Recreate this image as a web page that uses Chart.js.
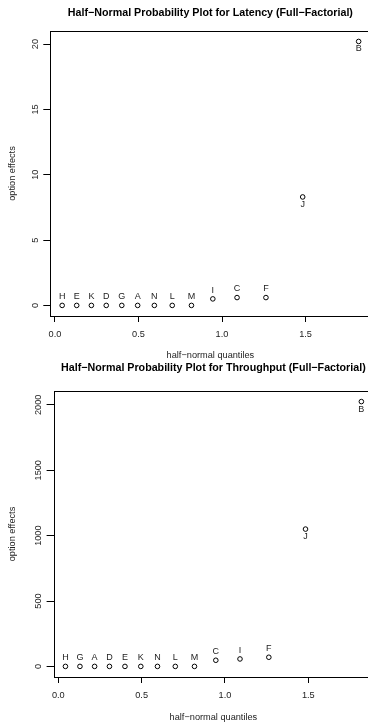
<!DOCTYPE html>
<html>
<head>
<meta charset="utf-8">
<script src="https://cdn.jsdelivr.net/npm/chart.js@4.4.1/dist/chart.umd.min.js"></script>
<style>
  html, body { margin: 0; padding: 0; background: #fff; overflow: hidden; }
  body { width: 368px; height: 725px; }
  .panel { position: relative; width: 420px; }
  #latency-wrap { height: 361px; }
  #throughput-wrap { height: 364px; }
  canvas { display: block; }
</style>
</head>
<body>
<div class="panel" id="latency-wrap"><canvas id="latency"></canvas></div>
<div class="panel" id="throughput-wrap"><canvas id="throughput"></canvas></div>
<script>
// values
const latFactors = ["H", "E", "K", "D", "G", "A", "N", "L", "M", "I", "C", "F", "J", "B"];
const latQuantiles = [0.043, 0.130, 0.218, 0.307, 0.400, 0.495, 0.595, 0.702, 0.817, 0.945, 1.090, 1.263, 1.483, 1.818];
const latEffects = [0, 0, 0, 0, 0, 0, 0, 0, 0, 0.5, 0.6, 0.6, 8.3, 20.2];
const latTicksY = [0, 5, 10, 15, 20];

const tpFactors = ["H", "G", "A", "D", "E", "K", "N", "L", "M", "C", "I", "F", "J", "B"];
const tpQuantiles = [0.043, 0.130, 0.218, 0.307, 0.400, 0.495, 0.595, 0.702, 0.817, 0.945, 1.090, 1.263, 1.483, 1.818];
const tpEffects = [0, 0, 0, 0, 0, 0, 0, 0, 0, 47, 57, 70, 1050, 2025];
const tpTicksY = [0, 500, 1000, 1500, 2000];

const xTicks = [0, 0.5, 1, 1.5];
const labelBelow = ["J", "B"];

const FONT = "'Liberation Sans', Arial, Helvetica, sans-serif";
const TXT = "#222";
const SMALL = 9.2;

// box around the plot region, like R's bty="o"
const framePlugin = {
  id: "frame",
  afterDraw(chart) {
    const { ctx, chartArea: a } = chart;
    ctx.save();
    ctx.strokeStyle = "#000";
    ctx.lineWidth = 1;
    ctx.strokeRect(Math.round(a.left) + 0.5, Math.round(a.top) + 0.5,
      Math.round(a.right - a.left), Math.round(a.bottom - a.top));
    ctx.restore();
  },
};

// y tick labels parallel to the axis (R default las=0)
const yTextPlugin = {
  id: "yText",
  afterDraw(chart, args, opts) {
    const { ctx } = chart;
    const y = chart.scales.y;
    ctx.save();
    ctx.fillStyle = TXT;
    ctx.font = SMALL + "px " + FONT;
    ctx.textAlign = "center";
    ctx.textBaseline = "middle";
    opts.ticks.forEach((v) => {
      ctx.save();
      ctx.translate(y.right - opts.gap, y.getPixelForValue(v));
      ctx.rotate(-Math.PI / 2);
      ctx.fillText(String(v), 0, 0);
      ctx.restore();
    });
    ctx.restore();
  },
};

// factor letters next to each point
const pointTextPlugin = {
  id: "pointText",
  afterDatasetsDraw(chart, args, opts) {
    const { ctx } = chart;
    const meta = chart.getDatasetMeta(0);
    ctx.save();
    ctx.fillStyle = TXT;
    ctx.font = "9px " + FONT;
    ctx.textAlign = "center";
    ctx.textBaseline = "middle";
    meta.data.forEach((pt, i) => {
      const name = opts.names[i];
      const dy = labelBelow.includes(name) ? 7.5 : -8.7;
      ctx.fillText(name, pt.x, pt.y + dy);
    });
    ctx.restore();
  },
};

function makeChart(id, c) {
  const pts = c.quantiles.map((q, i) => ({ x: q, y: c.effects[i] }));
  return new Chart(document.getElementById(id), {
    type: "scatter",
    data: {
      datasets: [{
        data: pts,
        pointStyle: "circle",
        pointRadius: 2.3,
        pointBorderWidth: 1,
        pointBorderColor: "#000",
        pointBackgroundColor: "rgba(0,0,0,0)",
      }],
    },
    plugins: [framePlugin, yTextPlugin, pointTextPlugin],
    options: {
      responsive: true,
      maintainAspectRatio: false,
      animation: false,
      events: [],
      layout: { padding: { left: 0, right: c.rightPad, top: 0, bottom: 0 } },
      plugins: {
        legend: { display: false },
        tooltip: { enabled: false },
        yText: { ticks: c.yTicks, gap: 15 },
        pointText: { names: c.factors },
      },
      scales: {
        top: {
          type: "linear",
          position: "top",
          min: c.xMin,
          max: c.xMax,
          grid: { display: false },
          border: { display: false },
          ticks: { display: false },
          title: {
            display: true,
            text: c.title,
            color: "#000",
            font: { family: FONT, size: 10.7, weight: "bold" },
            padding: { top: c.titleTop, bottom: 0 },
          },
          afterFit: (s) => { s.height = c.plotTop; },
        },
        x: {
          type: "linear",
          position: "bottom",
          min: c.xMin,
          max: c.xMax,
          afterBuildTicks: (s) => { s.ticks = xTicks.map((v) => ({ value: v })); },
          grid: { drawOnChartArea: false, drawTicks: true, tickLength: 6, color: "#000" },
          border: { display: false },
          ticks: {
            color: TXT,
            padding: 6.5,
            maxRotation: 0,
            font: { family: FONT, size: SMALL },
            callback: (v) => Number(v).toFixed(1),
          },
          title: {
            display: true,
            text: "half−normal quantiles",
            color: TXT,
            font: { family: FONT, size: SMALL },
            padding: { top: 0, bottom: c.xTitleBottom },
          },
          afterFit: (s) => { s.height = c.xAxisH; },
        },
        y: {
          type: "linear",
          position: "left",
          min: c.yMin,
          max: c.yMax,
          afterBuildTicks: (s) => { s.ticks = c.yTicks.map((v) => ({ value: v })); },
          grid: { drawOnChartArea: false, drawTicks: true, tickLength: 7, color: "#000" },
          border: { display: false },
          ticks: { display: false },
          title: {
            display: true,
            text: "option effects",
            color: TXT,
            font: { family: FONT, size: SMALL },
            padding: { top: 6.5, bottom: 0 },
          },
          afterFit: (s) => { s.width = c.plotLeft; },
        },
      },
    },
  });
}

makeChart("latency", {
  title: "Half−Normal Probability Plot for Latency (Full−Factorial)",
  factors: latFactors,
  quantiles: latQuantiles,
  effects: latEffects,
  yTicks: latTicksY,
  yMin: -0.81, yMax: 21.0,
  xMin: -0.028, xMax: 1.889,
  plotLeft: 50.3, plotTop: 31, xAxisH: 45, rightPad: 49.5,
  titleTop: 6.6, xTitleBottom: 0,
});

makeChart("throughput", {
  title: "Half−Normal Probability Plot for Throughput (Full−Factorial)",
  factors: tpFactors,
  quantiles: tpQuantiles,
  effects: tpEffects,
  yTicks: tpTicksY,
  yMin: -81, yMax: 2106,
  xMin: -0.028, xMax: 1.889,
  plotLeft: 53.6, plotTop: 30, xAxisH: 48, rightPad: 46.8,
  titleTop: 0.6, xTitleBottom: 2.5,
});
</script>
</body>
</html>
